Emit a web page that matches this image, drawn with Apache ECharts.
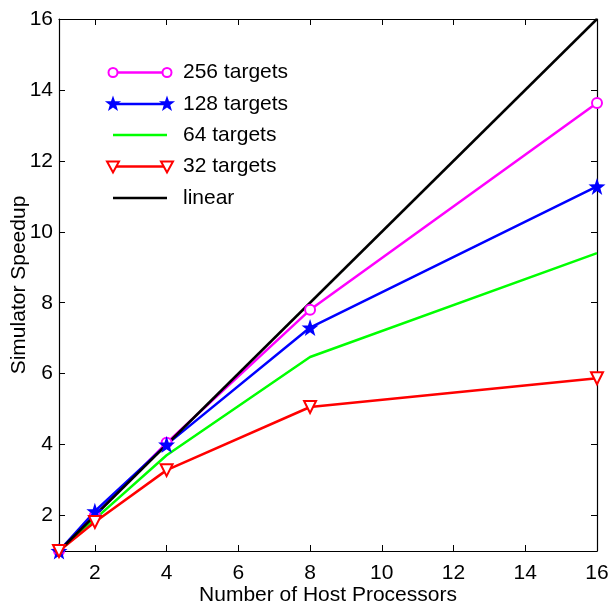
<!DOCTYPE html>
<html>
<head>
<meta charset="utf-8">
<script src="https://cdn.jsdelivr.net/npm/echarts@6/dist/echarts.min.js"></script>
<style>html,body{margin:0;padding:0;background:#fff;}#c{width:611px;height:609px;}</style>
</head>
<body>
<div id="c"></div>
<script>
const processors = [1, 2, 4, 8, 16];
const t256 = [1, 2.0, 4.05, 7.8, 13.63];
const t128 = [1, 2.12, 4.0, 7.3, 11.28];
const t64 = [1, 1.9, 3.7, 6.47, 9.4];
const t32 = [1, 1.82, 3.28, 5.06, 5.87];
const linearX = [1, 16];
const linearY = [1, 16];
const tickValues = [2, 4, 6, 8, 10, 12, 14, 16];
const legendNames = ['256 targets', '128 targets', '64 targets', '32 targets', 'linear'];

const FONT = '"Liberation Sans", Arial, sans-serif';
const starPath = 'path://M0,-10 L2.35,-3.24 L9.51,-3.09 L3.8,1.24 L5.88,8.09 L0,4 L-5.88,8.09 L-3.8,1.24 L-9.51,-3.09 L-2.35,-3.24 Z';

function pairs(xs, ys) { return xs.map((x, i) => [x, ys[i]]); }

function starPoints(cx, cy, R, r) {
  const pts = [];
  for (let i = 0; i < 10; i++) {
    const a = -Math.PI / 2 + i * Math.PI / 5;
    const rad = i % 2 === 0 ? R : r;
    pts.push([cx + rad * Math.cos(a), cy + rad * Math.sin(a)]);
  }
  return pts;
}

const legendRows = [72.5, 104, 135, 166.5, 198];
const lx1 = 113, lx2 = 167, tx = 183;
const graphic = [];
const colors = ['#ff00ff', '#0000ff', '#00ff00', '#ff0000', '#000000'];
legendRows.forEach((y, i) => {
  graphic.push({type: 'line', shape: {x1: lx1, y1: y, x2: lx2, y2: y}, style: {stroke: colors[i], lineWidth: 2.5}, z: 100});
  [lx1, lx2].forEach(x => {
    if (i === 0) graphic.push({type: 'circle', shape: {cx: x, cy: y, r: 4.5}, style: {stroke: colors[i], fill: '#fff', lineWidth: 2}, z: 101});
    if (i === 1) graphic.push({type: 'polygon', shape: {points: starPoints(x, y, 8.5, 3.4)}, style: {fill: colors[i]}, z: 101});
    if (i === 3) graphic.push({type: 'polygon', shape: {points: [[x - 6, y - 5], [x + 6, y - 5], [x, y + 6]]}, style: {stroke: colors[i], fill: '#fff', lineWidth: 2}, z: 101});
  });
  graphic.push({type: 'text', x: tx, y: y, style: {text: legendNames[i], font: '21px ' + FONT, fill: '#000', textVerticalAlign: 'middle', textAlign: 'left'}, z: 101});
});

const axisCommon = {
  type: 'value', min: 1, max: 16,
  axisLine: {show: true, lineStyle: {color: '#000', width: 1.2}},
  splitLine: {show: false},
  axisTick: {show: true, inside: true, length: 6, customValues: tickValues, lineStyle: {color: '#000', width: 1}},
};

const chart = echarts.init(document.getElementById('c'), null, {renderer: 'canvas'});
chart.setOption({
  animation: false,
  backgroundColor: '#fff',
  grid: {left: 59, right: 14, top: 19, bottom: 58, containLabel: false, outerBoundsMode: 'none'},
  xAxis: [
    Object.assign({}, axisCommon, {
      position: 'bottom',
      name: 'Number of Host Processors', nameLocation: 'middle', nameGap: 34, nameMoveOverlap: false,
      nameTextStyle: {fontFamily: FONT, fontSize: 21, color: '#000', verticalAlign: 'top'},
      axisLabel: {show: true, customValues: tickValues, fontFamily: FONT, fontSize: 21, color: '#000', margin: 12}
    }),
    Object.assign({}, axisCommon, {position: 'top', axisLabel: {show: false}})
  ],
  yAxis: [
    Object.assign({}, axisCommon, {
      position: 'left',
      name: 'Simulator Speedup', nameLocation: 'middle', nameGap: 29, nameMoveOverlap: false,
      nameTextStyle: {fontFamily: FONT, fontSize: 21, color: '#000'},
      axisLabel: {show: true, customValues: tickValues, fontFamily: FONT, fontSize: 21, color: '#000', margin: 6}
    }),
    Object.assign({}, axisCommon, {position: 'right', axisLabel: {show: false}})
  ],
  graphic: graphic,
  series: [
    {name: legendNames[0], type: 'line', data: pairs(processors, t256), symbol: 'emptyCircle', symbolSize: 10,
     lineStyle: {color: colors[0], width: 2.5}, itemStyle: {color: colors[0], borderWidth: 2}},
    {name: legendNames[1], type: 'line', data: pairs(processors, t128), symbol: starPath, symbolSize: 17,
     lineStyle: {color: colors[1], width: 2.5}, itemStyle: {color: colors[1]}},
    {name: legendNames[2], type: 'line', data: pairs(processors, t64), symbol: 'none',
     lineStyle: {color: colors[2], width: 2.5}, itemStyle: {color: colors[2]}},
    {name: legendNames[3], type: 'line', data: pairs(processors, t32), symbol: 'emptyTriangle', symbolRotate: 180, symbolSize: 12,
     lineStyle: {color: colors[3], width: 2.5}, itemStyle: {color: colors[3], borderWidth: 2}},
    {name: legendNames[4], type: 'line', data: pairs(linearX, linearY), symbol: 'none',
     lineStyle: {color: colors[4], width: 2.5}, itemStyle: {color: colors[4]}}
  ]
});
</script>
</body>
</html>
